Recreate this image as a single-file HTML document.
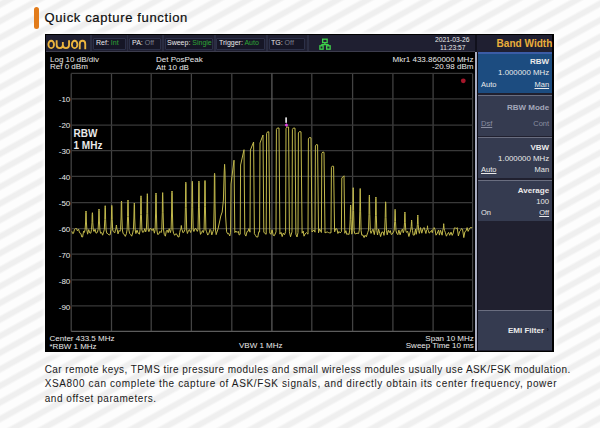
<!DOCTYPE html>
<html><head><meta charset="utf-8">
<style>
*{margin:0;padding:0;box-sizing:border-box}
html,body{width:600px;height:428px;overflow:hidden}
body{position:relative;font-family:"Liberation Sans",sans-serif;
background:#fbfbfb repeating-linear-gradient(-29deg,#fdfdfd 0px,#fdfdfd 4.5px,#efefef 6.8px,#efefef 10.5px,#fdfdfd 12.8px,#fdfdfd 14.5px);}
.a{position:absolute;white-space:nowrap}
#bar{left:33.5px;top:6.5px;width:5.8px;height:22px;border-radius:3px;background:#e27c1c}
#title{left:44.5px;top:10px;font-size:13px;letter-spacing:0.64px;color:#0d0d0d;line-height:16px;-webkit-text-stroke:0.2px #0d0d0d}
#screen{left:45.4px;top:34.1px;width:509.1px;height:317.7px;background:#000;box-shadow:0 0 3px 2.5px #fefefe}
#topbar{left:46px;top:35px;width:429px;height:17px;background:#1f1f31;border-bottom:1px solid #3c3c4c}
#bwhead{left:477px;top:35px;width:75px;height:17px;background:#1f1f31}
#sep{left:475.2px;top:35px;width:2px;height:316px;background:#a9adc1}
#sep0{left:475px;top:35px;width:2px;height:17px;background:#10101c}
#panel{left:477px;top:52px;width:75px;height:299px;background:#20202f;border-left:1px solid #0c0c16}
.btn{position:absolute;left:478px;width:73.5px;background:#353b50;border-top:1px solid #6a6e80}
.t{position:absolute;white-space:nowrap;color:#eaeaea;font-size:8px;line-height:8px}
.b{font-weight:bold}
.box{position:absolute;top:37.5px;height:12px;background:#161626;border:1px solid #2c3048;border-radius:1px}
.g{color:#2ea535}
.o{color:#7a7e8c}
.u{text-decoration:underline}
#para{left:44.7px;top:362.7px;font-size:10px;line-height:14.4px;color:#1a1a1a}
</style></head><body>
<div class="a" id="bar"></div>
<div class="a" id="title">Quick capture function</div>

<div class="a" id="screen"></div>
<div class="a" id="topbar"></div>
<div class="a" id="bwhead"></div>
<div class="a" id="panel"></div>
<div class="a" id="sep"></div>
<div class="a" id="sep0"></div>

<div class="a" style="left:89.5px;top:35px;width:2.2px;height:16px;background:#2a2d42"></div>
<div class="a" style="left:126.6px;top:35px;width:1.8px;height:16px;background:#2a2d42"></div>
<div class="a" style="left:162.2px;top:35px;width:1.8px;height:16px;background:#2a2d42"></div>
<div class="a" style="left:213.5px;top:35px;width:2.5px;height:16px;background:#2a2d42"></div>
<div class="a" style="left:265.8px;top:35px;width:2.2px;height:16px;background:#2a2d42"></div>
<div class="a" style="left:306.5px;top:35px;width:2.2px;height:16px;background:#2a2d42"></div>
<!-- status boxes -->
<div class="box" style="left:93px;width:33px"></div>
<div class="box" style="left:129px;width:32px"></div>
<div class="box" style="left:164.5px;width:48px"></div>
<div class="box" style="left:216px;width:49px"></div>
<div class="box" style="left:268.5px;width:36px"></div>
<div class="t" style="left:96px;top:39px;font-size:8px;transform:scaleX(0.875);transform-origin:0 0">Ref: <span class="g">Int</span></div>
<div class="t" style="left:132px;top:39px;font-size:8px;transform:scaleX(0.875);transform-origin:0 0">PA: <span class="o">Off</span></div>
<div class="t" style="left:167px;top:39px;font-size:8px;transform:scaleX(0.875);transform-origin:0 0">Sweep: <span class="g">Single</span></div>
<div class="t" style="left:219px;top:39px;font-size:8px;transform:scaleX(0.875);transform-origin:0 0">Trigger: <span class="g">Auto</span></div>
<div class="t" style="left:271px;top:39px;font-size:8px;transform:scaleX(0.875);transform-origin:0 0">TG: <span class="o">Off</span></div>

<!-- logo -->
<svg class="a" style="left:0;top:0" width="100" height="56" viewBox="0 0 100 56">
<g fill="none" stroke="#ebb43e" stroke-width="1.85">
<ellipse cx="51.2" cy="44.4" rx="2.8" ry="3.65"/>
<path d="M56.65,40.3 V45 Q56.65,48.05 59.75,48.05 Q62.85,48.05 62.85,45 V42 M62.85,45 Q62.85,48.05 65.95,48.05 Q69.05,48.05 69.05,45 V40.3"/>
<ellipse cx="74.65" cy="44.4" rx="2.75" ry="3.65"/>
<path d="M79.75,49.2 V44 Q79.75,40.75 82.5,40.75 Q85.25,40.75 85.25,44 V49.2"/>
</g></svg>

<!-- network icon -->
<svg class="a" style="left:318px;top:38px" width="14" height="13" viewBox="0 0 14 13">
<g fill="none" stroke="#3ed24a" stroke-width="1.3">
<rect x="4.65" y="1.2" width="4.5" height="3.4"/>
<path d="M6.9,4.6 V6.6 M3.5,6.6 H10.4 M3.5,6.6 V7.8 M10.4,6.6 V7.8"/>
<rect x="1.9" y="7.8" width="3.2" height="3.4"/>
<rect x="8.65" y="7.8" width="3.5" height="3.4"/>
</g></svg>

<div class="t" style="left:435px;top:36px;font-size:7px;transform:scaleX(0.965);transform-origin:0 0">2021-03-26</div>
<div class="t" style="left:439.8px;top:44.3px;font-size:7px;transform:scaleX(0.95);transform-origin:0 0">11:23:57</div>
<div class="t b" style="left:496.6px;top:38.7px;font-size:10.05px;line-height:10px;color:#eaae3a">Band Width</div>

<!-- graph -->
<svg class="a" style="left:0;top:0" width="600" height="428" viewBox="0 0 600 428">
<g stroke="#434343" stroke-width="1.25" fill="none">
<path d="M71.2,73.4 V331.4 M111.5,73.4 V331.4 M151.2,73.4 V331.4 M191.4,73.4 V331.4 M231.8,73.4 V331.4 M311.8,73.4 V331.4 M352.6,73.4 V331.4 M392.9,73.4 V331.4 M433.1,73.4 V331.4 M472.6,73.4 V331.4"/>
<path stroke="#393939" d="M71.2,73.4 H472.6 M71.2,98.8 H472.6 M71.2,125 H472.6 M71.2,150.6 H472.6 M71.2,176.3 H472.6 M71.2,202.7 H472.6 M71.2,228.6 H472.6 M71.2,254.2 H472.6 M71.2,279.9 H472.6 M71.2,305.9 H472.6"/>
<path stroke="#5c5c5c" d="M271.9,73.4 V331.4 M71.2,331.4 H472.6"/>
</g>
<circle cx="463.3" cy="80.8" r="2.4" fill="#a5162a"/>
<path d="M71.8,231.3 L72.7,233.6 L73.5,233.3 L74.5,229.3 L75.5,228.6 L76.6,228.6 L77.4,230.9 L78.6,229.1 L79.5,232.8 L80.8,233.4 L81.8,237.0 L82.6,237.0 L83.6,231.1 L84.4,232.4 L85.1,229.5 L85.6,222.0 L85.8,212.5 L86.0,211.0 L86.2,212.5 L86.4,222.0 L86.9,230.0 L87.6,234.2 L88.7,229.6 L89.8,233.0 L90.8,233.2 L91.5,229.5 L92.0,222.8 L92.2,214.2 L92.4,212.7 L92.6,214.2 L92.8,222.8 L93.3,230.0 L94.0,231.5 L95.1,229.2 L96.0,233.2 L97.4,232.4 L98.1,229.5 L98.6,221.0 L98.8,210.5 L99.0,209.0 L99.2,210.5 L99.4,221.0 L99.9,230.0 L100.6,233.3 L101.7,232.5 L102.6,235.2 L103.6,232.2 L104.3,229.5 L104.8,219.3 L105.0,207.2 L105.2,205.7 L105.4,207.2 L105.6,219.3 L106.1,230.0 L106.8,233.3 L107.9,233.7 L109.1,235.0 L110.2,234.7 L110.9,229.5 L111.4,219.2 L111.6,206.9 L111.8,205.4 L112.0,206.9 L112.2,219.2 L112.7,230.0 L113.4,231.7 L114.8,232.8 L115.5,229.5 L116.0,229.0 L116.2,226.5 L116.4,225.0 L116.6,226.5 L116.8,229.0 L117.3,230.0 L118.0,233.9 L119.1,230.5 L119.9,231.4 L120.6,229.5 L121.1,217.0 L121.3,202.5 L121.5,201.0 L121.7,202.5 L121.9,217.0 L122.4,230.0 L123.1,233.6 L124.2,234.3 L125.3,236.4 L126.4,233.7 L127.1,229.5 L127.6,216.5 L127.8,201.5 L128.0,200.0 L128.2,201.5 L128.4,216.5 L128.9,230.0 L129.6,233.4 L130.7,234.6 L131.7,236.2 L132.7,233.0 L133.4,229.5 L133.9,218.0 L134.2,204.5 L134.3,203.0 L134.5,204.5 L134.7,218.0 L135.2,230.0 L135.9,233.6 L137.0,230.1 L138.2,233.2 L139.4,234.2 L140.1,229.5 L140.6,214.4 L140.8,197.3 L141.0,195.8 L141.2,197.3 L141.4,214.4 L141.9,230.0 L142.6,232.3 L143.7,232.0 L144.8,228.6 L145.7,231.9 L146.4,229.5 L146.9,213.3 L147.2,195.2 L147.3,193.7 L147.5,195.2 L147.7,213.3 L148.2,230.0 L148.9,231.7 L150.0,228.6 L151.2,228.6 L152.1,230.6 L153.3,228.6 L154.4,233.2 L155.1,229.5 L155.6,213.0 L155.8,194.5 L156.0,193.0 L156.2,194.5 L156.4,213.0 L156.9,230.0 L157.6,234.4 L158.7,234.2 L159.9,231.4 L161.1,232.6 L161.8,229.5 L162.3,212.8 L162.5,194.1 L162.7,192.6 L162.8,194.1 L163.1,212.8 L163.6,230.0 L164.3,234.4 L165.4,236.2 L166.3,231.1 L167.2,230.1 L168.2,232.7 L169.2,228.6 L170.4,232.6 L171.1,229.5 L171.6,212.0 L171.8,192.5 L172.0,191.0 L172.2,192.5 L172.4,212.0 L172.9,230.0 L173.6,233.3 L174.7,235.3 L175.8,233.7 L177.0,234.5 L177.8,236.7 L179.0,237.0 L179.7,232.7 L180.4,229.5 L180.9,229.2 L181.2,227.0 L181.3,225.5 L181.5,227.0 L181.7,229.2 L182.2,230.0 L182.9,232.7 L184.2,231.7 L184.9,229.5 L185.4,207.6 L185.7,183.7 L185.8,182.2 L186.0,183.7 L186.2,207.6 L186.7,230.0 L187.4,233.5 L188.5,230.4 L189.3,229.6 L190.7,232.5 L191.4,229.5 L191.9,207.2 L192.2,182.8 L192.3,181.3 L192.5,182.8 L192.7,207.2 L193.2,230.0 L193.9,231.5 L195.0,228.6 L195.9,228.6 L197.3,231.4 L198.0,229.5 L198.5,207.1 L198.8,182.6 L198.9,181.1 L199.1,182.6 L199.3,207.1 L199.8,230.0 L200.5,234.4 L201.6,232.5 L202.5,230.6 L203.4,232.6 L204.1,229.5 L204.6,206.8 L204.8,182.0 L205.0,180.5 L205.2,182.0 L205.4,206.8 L205.9,230.0 L206.6,231.7 L207.7,235.1 L209.0,233.2 L210.0,229.4 L210.9,230.5 L211.8,234.9 L213.0,231.4 L213.7,229.5 L214.2,203.2 L214.4,174.8 L214.6,173.3 L214.8,174.8 L215.0,203.2 L215.5,230.0 L216.2,234.6 L216.6,233.1 L218.0,229.0 L219.5,222.0 L220.8,216.0 L222.2,212.0 L223.4,200.0 L224.2,172.0 L224.6,164.3 L225.0,172.0 L225.6,216.0 L226.6,231.8 L227.7,233.8 L228.5,233.3 L229.8,236.0 L230.6,232.2 L231.0,184.0 L234.0,160.2 L234.8,232.6 L235.9,231.0 L237.1,232.5 L238.3,231.3 L239.2,235.0 L240.2,234.3 L240.6,165.0 L244.0,149.7 L244.8,234.1 L245.9,236.1 L247.1,231.5 L248.1,231.2 L248.9,228.6 L250.0,232.2 L250.4,150.0 L253.6,142.0 L254.4,233.7 L255.5,235.4 L256.5,237.0 L257.8,237.0 L258.8,231.7 L259.6,232.0 L260.0,143.0 L263.0,135.0 L263.8,232.0 L264.9,233.5 L266.2,234.2 L266.6,133.5 L267.6,131.8 L268.8,131.8 L269.8,233.0 L270.9,234.3 L272.1,229.8 L273.2,235.3 L274.4,235.7 L276.0,231.9 L276.4,129.5 L277.4,128.0 L279.0,128.0 L279.9,234.1 L281.0,232.3 L282.2,236.6 L283.2,233.1 L284.5,234.8 L285.6,231.7 L286.0,128.5 L287.0,127.0 L288.6,127.0 L289.4,231.8 L290.5,236.8 L292.0,231.8 L292.4,129.5 L293.4,128.0 L295.0,128.2 L295.9,234.2 L297.0,237.0 L298.0,232.5 L298.4,133.0 L299.4,131.6 L301.0,131.8 L302.1,233.2 L303.2,231.0 L304.0,236.2 L305.1,234.0 L306.4,232.6 L308.0,234.2 L308.4,139.0 L309.4,137.5 L311.0,137.8 L312.0,232.0 L313.1,230.7 L314.0,230.0 L315.0,232.2 L315.4,146.0 L316.4,144.5 L317.6,144.8 L318.5,232.8 L319.6,228.9 L321.4,232.5 L321.8,153.5 L322.8,152.0 L324.0,152.3 L325.0,232.9 L326.1,232.3 L327.4,232.0 L328.6,232.6 L329.7,232.9 L331.0,232.8 L331.4,167.5 L332.4,166.0 L333.6,166.3 L334.6,231.9 L335.7,228.7 L336.9,228.8 L337.9,233.5 L339.0,231.5 L340.1,232.9 L341.4,231.7 L341.8,178.0 L344.0,175.8 L344.8,233.3 L345.9,230.7 L346.8,234.5 L347.9,233.8 L349.0,234.5 L349.7,230.1 L350.2,219.3 L350.5,206.5 L350.6,205.0 L350.8,206.5 L351.0,219.3 L351.5,230.6 L352.2,233.5 L351.6,234.0 L352.3,230.1 L352.8,210.6 L353.1,189.2 L353.2,187.7 L353.3,189.2 L353.6,210.6 L354.1,230.6 L354.8,233.7 L355.9,233.8 L357.0,233.1 L358.6,233.6 L359.3,230.1 L359.8,211.1 L360.1,190.0 L360.2,188.5 L360.3,190.0 L360.6,211.1 L361.1,230.6 L361.8,235.2 L362.9,235.0 L364.1,237.6 L365.1,235.2 L366.3,236.8 L367.8,232.3 L368.5,230.1 L369.0,214.3 L369.2,196.5 L369.4,195.0 L369.5,196.5 L369.8,214.3 L370.3,230.6 L371.0,233.4 L372.1,230.8 L373.0,229.2 L374.3,234.6 L375.0,230.1 L375.5,215.3 L375.8,198.5 L375.9,197.0 L376.0,198.5 L376.3,215.3 L376.8,230.6 L377.5,235.0 L378.6,229.2 L379.8,233.5 L380.6,236.6 L381.9,232.0 L383.2,232.1 L384.0,235.4 L384.7,230.1 L385.2,217.7 L385.5,203.3 L385.6,201.8 L385.8,203.3 L386.0,217.7 L386.5,230.6 L387.2,234.8 L388.3,230.2 L389.3,232.6 L390.3,230.6 L391.2,234.4 L392.1,234.2 L393.5,232.0 L394.2,230.1 L394.7,221.4 L395.0,210.8 L395.1,209.3 L395.2,210.8 L395.5,221.4 L396.0,230.6 L396.7,233.1 L397.8,234.7 L398.9,230.1 L400.1,234.8 L401.4,230.5 L402.4,229.2 L403.3,232.8 L404.0,230.1 L404.5,222.8 L404.8,213.5 L404.9,212.0 L405.0,213.5 L405.3,222.8 L405.8,230.6 L406.5,232.4 L407.6,231.2 L408.9,236.5 L410.0,232.4 L410.7,230.1 L411.2,226.8 L411.5,221.5 L411.6,220.0 L411.8,221.5 L412.0,226.8 L412.5,230.6 L413.2,235.1 L414.3,235.1 L415.5,229.2 L416.2,234.3 L416.9,230.1 L417.4,224.3 L417.7,216.5 L417.8,215.0 L417.9,216.5 L418.2,224.3 L418.7,230.6 L419.4,233.4 L420.5,227.6 L421.8,233.2 L423.0,228.5 L424.2,227.6 L425.9,233.5 L426.6,230.1 L427.1,229.7 L427.4,227.3 L427.5,225.8 L427.6,227.3 L427.9,229.7 L428.4,230.6 L429.1,233.1 L430.2,232.3 L431.5,230.4 L432.3,232.8 L433.2,228.7 L434.1,227.6 L435.0,229.5 L436.0,235.2 L436.9,234.0 L437.8,231.8 L438.6,230.0 L439.4,235.1 L440.5,230.3 L442.1,235.2 L442.8,230.1 L443.3,228.6 L443.6,225.2 L443.7,223.7 L443.8,225.2 L444.1,228.6 L444.6,230.6 L445.3,232.3 L446.4,236.2 L447.4,234.2 L448.6,232.4 L449.7,235.3 L451.0,232.1 L452.2,235.4 L453.3,232.9 L454.3,228.1 L455.2,227.6 L456.3,228.8 L457.2,227.6 L458.4,236.0 L459.6,231.6 L460.5,230.5 L461.5,228.5 L462.5,229.2 L463.8,237.6 L464.9,231.7 L466.2,230.7 L467.1,227.6 L468.1,231.4 L469.2,229.3 L470.2,227.6 L471.2,227.6 L472.2,227.6" fill="none" stroke="#c2b94c" stroke-width="1" stroke-linejoin="round"/>
<path d="M286.4,123.3 L288.2,125.1 L286.4,126.9 L284.6,125.1 Z" fill="#e040e0"/>
<rect x="285.3" y="117.4" width="1.6" height="5.4" fill="#f0f0f0"/>
</svg>

<div class="t" style="left:50px;top:55.5px">Log 10 dB/div</div>
<div class="t" style="left:50px;top:63px">Ref 0 dBm</div>
<div class="t" style="left:156px;top:55.5px">Det PosPeak</div>
<div class="t" style="left:156px;top:63.5px">Att 10 dB</div>
<div class="t" style="right:126.6px;top:55.5px">Mkr1 433.860000 MHz</div>
<div class="t" style="right:126.6px;top:63px">-20.98 dBm</div>

<div class="t" style="right:529.7px;top:95.5px">-10</div>
<div class="t" style="right:529.7px;top:121.55px">-20</div>
<div class="t" style="right:529.7px;top:147.65px">-30</div>
<div class="t" style="right:529.7px;top:173.65px">-40</div>
<div class="t" style="right:529.7px;top:199.75px">-50</div>
<div class="t" style="right:529.7px;top:225.75px">-60</div>
<div class="t" style="right:529.7px;top:251.85px">-70</div>
<div class="t" style="right:529.7px;top:277.95px">-80</div>
<div class="t" style="right:529.7px;top:303.95px">-90</div>

<div class="t b" style="left:73.5px;top:129px;font-size:10px;line-height:10px">RBW</div>
<div class="t b" style="left:73.5px;top:141px;font-size:10px;line-height:10px">1 MHz</div>

<div class="t" style="left:49.5px;top:334.5px">Center 433.5 MHz</div>
<div class="t" style="left:49.5px;top:342.7px">*RBW 1 MHz</div>
<div class="t" style="left:239px;top:342px">VBW 1 MHz</div>
<div class="t" style="right:126.2px;top:334.5px">Span 10 MHz</div>
<div class="t" style="right:126.2px;top:342.3px">Sweep Time 10 ms</div>

<!-- buttons -->
<div class="btn" style="top:51.5px;height:41.5px;background:#1c4c80;border-top:2px solid #3b5ca6"></div>
<div class="btn" style="top:94.5px;height:41px"></div>
<div class="btn" style="top:137px;height:41px"></div>
<div class="btn" style="top:180px;height:41px"></div>
<div class="btn" style="top:309.5px;height:40.5px"></div>

<div class="t b" style="right:50.9px;top:58px">RBW</div>
<div class="t" style="right:50.9px;top:69px;font-size:7.85px">1.000000 MHz</div>
<div class="t" style="left:481px;top:81px;font-size:7.5px">Auto</div>
<div class="t u" style="right:50.9px;top:81px;font-size:7.5px">Man</div>

<div class="t b" style="right:50.9px;top:103.8px;color:#a3a7ba">RBW Mode</div>
<div class="t u" style="left:481px;top:120.2px;font-size:7.5px;color:#8a8ea0">Dsf</div>
<div class="t" style="right:50.9px;top:120.2px;font-size:7.5px;color:#8a8ea0">Cont</div>

<div class="t b" style="right:50.9px;top:144px">VBW</div>
<div class="t" style="right:50.9px;top:155px;font-size:7.85px">1.000000 MHz</div>
<div class="t u" style="left:481px;top:166px;font-size:7.5px">Auto</div>
<div class="t" style="right:50.9px;top:166px;font-size:7.5px">Man</div>

<div class="t b" style="right:50.9px;top:187px">Average</div>
<div class="t" style="right:50.9px;top:198px;font-size:7.7px">100</div>
<div class="t" style="left:481px;top:209px;font-size:7.5px">On</div>
<div class="t u" style="right:50.9px;top:209px;font-size:7.5px">Off</div>

<div class="t b" style="right:56px;top:326.5px">EMI Filter</div>
<div class="t" style="left:546.5px;top:325.5px;font-size:7px;color:#14141e;font-weight:bold">›</div>

<div class="a" id="para"><span style="letter-spacing:0.43px">Car remote keys, TPMS tire pressure modules and small wireless modules usually use ASK/FSK modulation.</span><br><span style="letter-spacing:0.63px">XSA800 can complete the capture of ASK/FSK signals, and directly obtain its center frequency, power</span><br><span style="letter-spacing:0.55px">and offset parameters.</span></div>
</body></html>
